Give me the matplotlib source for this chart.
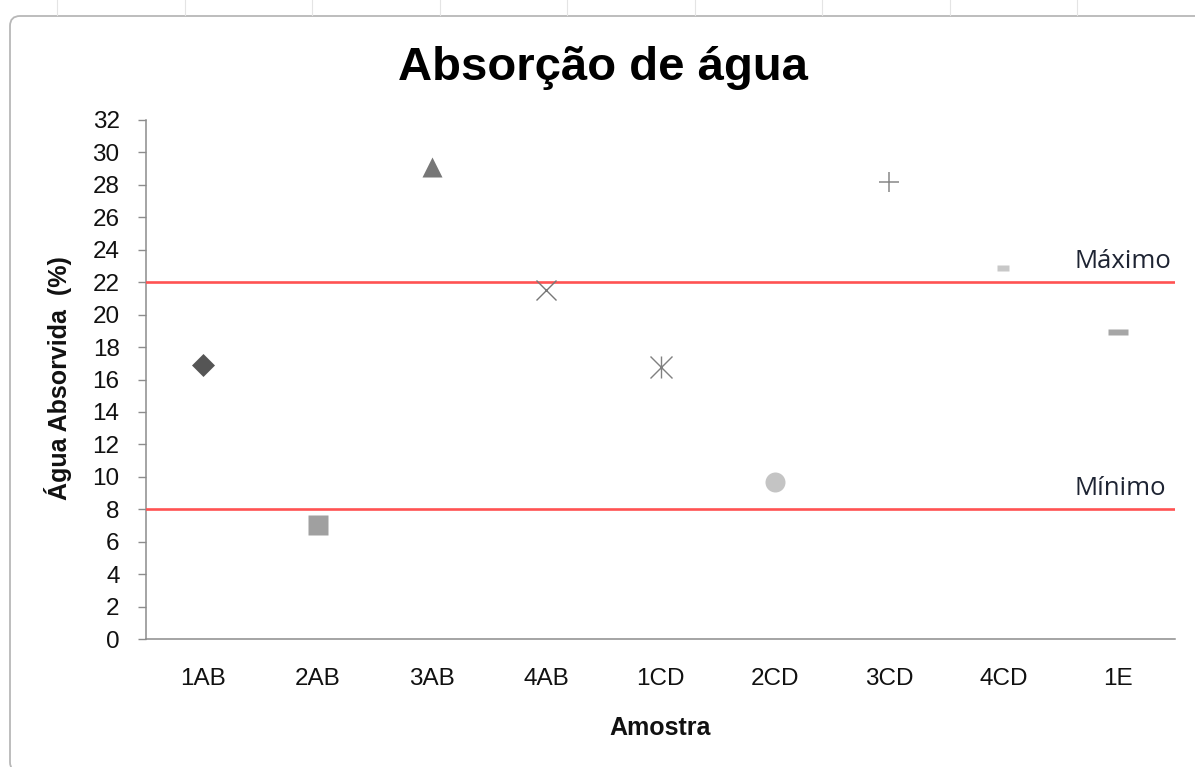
import matplotlib
matplotlib.use("Agg")
import matplotlib.pyplot as plt
from matplotlib.path import Path
from matplotlib.patches import PathPatch
from matplotlib.lines import Line2D

# ---- data ----
categories = ['1AB', '2AB', '3AB', '4AB', '1CD', '2CD', '3CD', '4CD', '1E']
values = [16.9, 7.0, 29.1, 21.5, 16.8, 9.7, 28.2, 22.9, 18.9]
limit_values = [22, 8]
limit_labels = ['Máximo', 'Mínimo']
y_ticks = list(range(0, 33, 2))

title = 'Absorção de água'
x_label = 'Amostra'
y_label = 'Água Absorvida  (%)'

# ---- marker styles ----
PX = 0.72  # points per pixel at dpi 100
diamond = Path([(0, 1), (1, 0), (0, -1), (-1, 0), (0, 1)],
               [Path.MOVETO, Path.LINETO, Path.LINETO, Path.LINETO, Path.CLOSEPOLY])
asterisk = Path([(-1, -1), (1, 1), (-1, 1), (1, -1), (0, -1), (0, 1)],
                [Path.MOVETO, Path.LINETO, Path.MOVETO, Path.LINETO, Path.MOVETO, Path.LINETO])
def rect(h):
    return Path([(-1, -h), (1, -h), (1, h), (-1, h), (-1, -h)],
                [Path.MOVETO, Path.LINETO, Path.LINETO, Path.LINETO, Path.CLOSEPOLY])

styles = [
    dict(marker=diamond, ms=23 * PX, mfc='#555555', mec='none'),
    dict(marker='s', ms=20 * PX, mfc='#a0a0a0', mec='none'),
    dict(marker='^', ms=20 * PX, mfc='#777777', mec='none'),
    dict(marker='x', ms=20 * PX, mfc='none', mec='#777777', mew=1.0),
    dict(marker=asterisk, ms=22 * PX, mfc='none', mec='#808080', mew=1.0),
    dict(marker='o', ms=20 * PX, mfc='#c4c4c4', mec='none'),
    dict(marker='+', ms=20 * PX, mfc='none', mec='#888888', mew=1.1),
    dict(marker=rect(0.5), ms=12 * PX, mfc='#c8c8c8', mec='none'),
    dict(marker=rect(0.3), ms=20 * PX, mfc='#a6a6a6', mec='none'),
]

W, H = 1195, 767
fig = plt.figure(figsize=(W / 100, H / 100), dpi=100)
fig.patch.set_facecolor('white')

# outer chart frame: open on the right/bottom (runs past the image edge)
fl, ft, fb, r = 10, 16, 772, 10   # pixel positions, top-down
def P(x, y):
    return (x / W, 1 - y / H)
frame_path = Path([P(W + 20, ft), P(fl + r, ft), P(fl, ft), P(fl, ft + r),
                   P(fl, fb - r), P(fl, fb), P(fl + r, fb), P(W + 20, fb)],
                  [Path.MOVETO, Path.LINETO, Path.CURVE3, Path.CURVE3,
                   Path.LINETO, Path.CURVE3, Path.CURVE3, Path.LINETO])
fig.patches.append(PathPatch(frame_path, transform=fig.transFigure, fill=False,
                             edgecolor='#b8b8b8', linewidth=1.3, clip_on=False))
for gx in [57, 184.5, 312, 439.5, 567, 694.5, 822, 949.5, 1077]:
    fig.add_artist(Line2D([gx / W, gx / W], [1, 1 - 15 / H], transform=fig.transFigure,
                          color='#e4e4e4', lw=0.8))

left, right, top, bottom = 146, 1175, 120, 639
ax = fig.add_axes([left / W, 1 - bottom / H, (right - left) / W, (bottom - top) / H])
ax.set_facecolor('none')

TXT = '#111111'
tick_font = dict(family=['Liberation Sans', 'DejaVu Sans'], size=17.5)

xs = list(range(len(categories)))
for x, v, st in zip(xs, values, styles):
    ax.plot([x], [v], linestyle='none', clip_on=False, zorder=4, **st)

for lv, lbl in zip(limit_values, limit_labels):
    ax.axhline(lv, color='#ff5252', lw=1.9, zorder=3)
    ax.annotate(lbl, xy=(0.902, lv), xycoords=('axes fraction', 'data'),
                xytext=(0, 10), textcoords='offset points', ha='left', va='baseline',
                fontsize=18.5, family=['Open Sans', 'DejaVu Sans'], color='#1e2433')

ax.set_xlim(-0.5, len(categories) - 0.5)
ax.set_ylim(0, 32)
ax.set_yticks(y_ticks)
ax.set_xticks(xs)
ax.set_xticklabels(categories, **tick_font, color=TXT)
ax.set_yticklabels([str(t) for t in y_ticks], **tick_font, color=TXT)

for s in ['top', 'right']:
    ax.spines[s].set_visible(False)
for s in ['left', 'bottom']:
    ax.spines[s].set_color('#8c8c8c')
    ax.spines[s].set_linewidth(1.1)
ax.tick_params(axis='y', direction='out', length=6, width=1.0, color='#8c8c8c', pad=13)
ax.tick_params(axis='x', length=0, pad=21)

fig.text(603 / W, 1 - 80 / H, title, ha='center', va='baseline',
         family=['Liberation Sans', 'DejaVu Sans'], weight='bold', size=34, color='black')
fig.text(660 / W, 1 - 728 / H, x_label, ha='center', va='center',
         family=['Liberation Sans', 'DejaVu Sans'], weight='bold', size=18, color=TXT)
fig.text(58 / W, 1 - 378 / H, y_label, ha='center', va='center', rotation=90,
         family=['Liberation Sans', 'DejaVu Sans'], weight='bold', size=18, color=TXT)

fig.savefig('out.png', dpi=100, facecolor='white')
